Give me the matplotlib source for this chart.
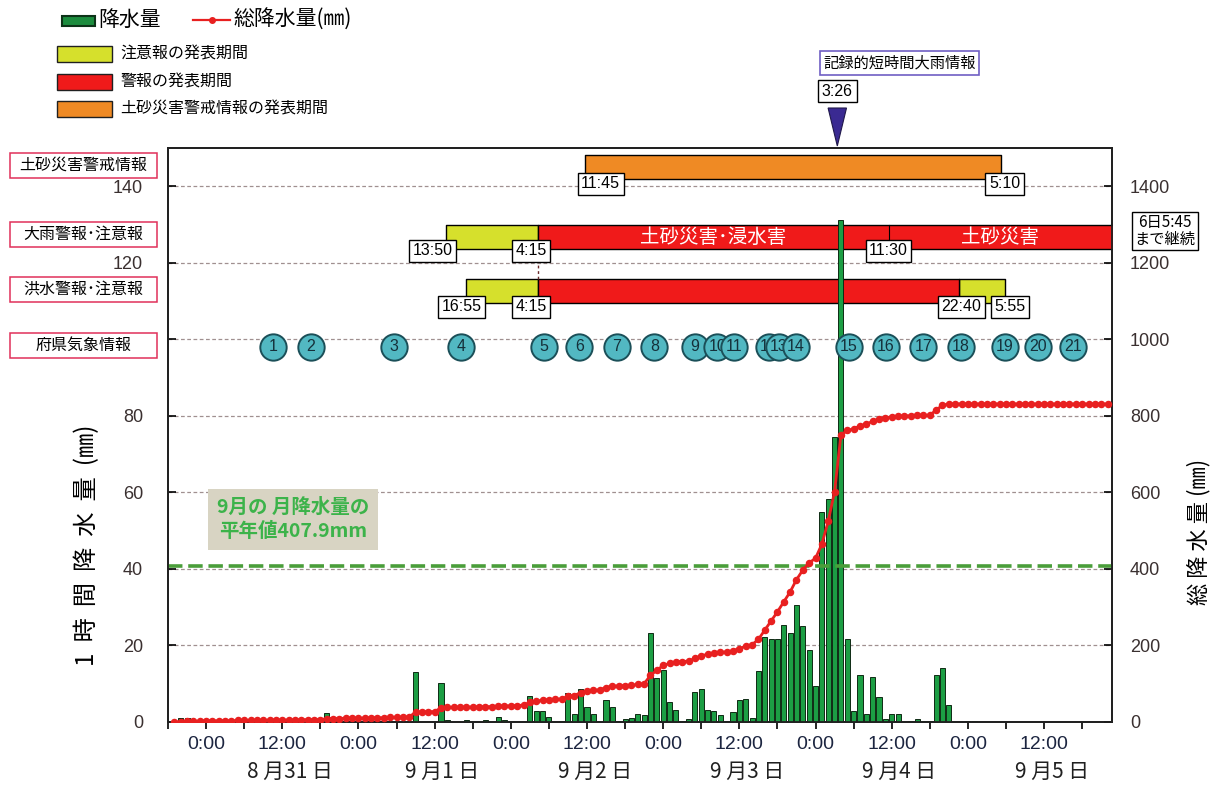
import matplotlib
matplotlib.use('Agg')
import matplotlib.pyplot as plt
import matplotlib.transforms as mtransforms
from matplotlib.patches import Rectangle, Polygon
from matplotlib.lines import Line2D
from matplotlib import font_manager

plt.rcParams['font.family'] = ['Noto Sans CJK JP', 'DejaVu Sans']

def _has(name):
    try:
        font_manager.findfont(name, fallback_to_default=False)
        return True
    except Exception:
        return False

NUMF = 'Liberation Sans' if _has('Liberation Sans') else 'DejaVu Sans'
NARROW = 'Liberation Sans Narrow' if _has('Liberation Sans Narrow') else NUMF

# ---------------- data (hours counted from 8/31 0:00) ----------------
rain_hours = [-4, -3, 18, 19, 20, 33, 37, 38, 41, 44, 46, 47, 51, 52, 53, 54, 56, 57, 58, 59,
              60, 61, 63, 64, 65, 66, 67, 68, 69, 70, 71, 72, 73, 74, 75, 76, 77, 78, 79, 80,
              81, 82, 83, 84, 85, 86, 87, 88, 89, 90, 91, 92, 93, 94, 95, 96, 97, 98, 99, 100,
              101, 102, 103, 104, 105, 106, 107, 108, 109, 111, 112, 113, 114, 115, 116, 117, 120, 121]
rain_mm = [1.0, 1.0, 0.3, 2.3, 0.3, 13.1, 10.3, 0.5, 0.4, 0.5, 1.2, 0.4, 6.8, 2.8, 2.8, 1.2, 0.3, 7.6, 2.0, 8.5,
           3.9, 2.2, 5.8, 3.9, 0.3, 0.9, 1.1, 2.2, 1.7, 23.3, 11.6, 13.5, 5.1, 3.1, 0.3, 0.8, 7.8, 8.7, 3.1, 2.8,
           1.7, 0.3, 2.6, 5.7, 6.1, 1.1, 13.3, 22.2, 21.6, 21.6, 25.3, 23.3, 30.5, 25.0, 18.9, 9.3, 55.0, 58.3, 74.5, 131.3,
           21.8, 3.0, 12.4, 2.1, 11.7, 6.6, 0.8, 2.1, 2.1, 0.3, 0.9, 0.3, 0.3, 12.3, 14.1, 4.4, 0.3, 0.3]

total_hours = list(range(-5, 143))
total_mm = [0, 1, 2, 2, 2, 3, 3, 3, 3, 3, 4, 4, 4, 4, 4, 5, 5, 5, 5, 5,
            6, 6, 6, 6, 9, 9, 9, 10, 10, 10, 10, 11, 11, 11, 12, 12, 12, 13, 26, 26,
            27, 27, 37, 38, 38, 38, 39, 39, 39, 40, 40, 41, 42, 42, 43, 44, 51, 54, 57, 58,
            59, 60, 67, 69, 77, 81, 83, 84, 90, 94, 94, 95, 96, 98, 100, 122, 135, 148, 153, 157,
            158, 159, 166, 173, 177, 180, 182, 183, 186, 192, 198, 202, 216, 240, 264, 288, 314, 340, 372, 397,
            416, 428, 465, 525, 602, 750, 762, 766, 774, 778, 786, 792, 795, 797, 799, 800, 800, 801, 801, 802,
            815, 828, 831, 831, 831, 831, 831, 831, 831, 831, 831, 831, 831, 831, 831, 831, 831, 831, 831, 831,
            831, 831, 831, 831, 831, 831, 831, 831]

normal_sept = 407.9
normal_text = "9月の 月降水量の\n平年値407.9mm"

date_labels = ["8 月31 日", "9 月1 日", "9 月2 日", "9 月3 日", "9 月4 日", "9 月5 日"]
date_noon = [12, 36, 60, 84, 108, 132]

# warnings / advisories (start, end) in hours
dosha_period = (59.75, 125.17)              # 11:45 -> 5:10
ooame_advisory = (37.83, 52.25)             # 13:50 -> 4:15
ooame_warning = (52.25, 149.75)             # 4:15 -> 6日5:45
ooame_switch = 107.5                        # 11:30
kozui_advisory1 = (40.92, 52.25)            # 16:55 -> 4:15
kozui_warning = (52.25, 118.67)             # 4:15 -> 22:40
kozui_advisory2 = (118.67, 125.92)          # 22:40 -> 5:55
kiroku_time = 99.43                         # 3:26
kishou_times = [10.5, 16.5, 29.6, 40.2, 53.2, 58.8, 64.7, 70.6, 77.0, 80.5, 83.1,
                88.6, 90.2, 92.9, 101.2, 107.1, 113.0, 118.9, 125.8, 131.0, 136.6]

row_labels = ["土砂災害警戒情報", "大雨警報･注意報", "洪水警報･注意報", "府県気象情報"]

# ---------------- figure ----------------
W, H = 1210, 789
fig = plt.figure(figsize=(W / 100, H / 100), dpi=100)
fig.patch.set_facecolor('white')

def fx(px):
    return px / W

def fy(py):
    return 1 - py / H

AX_L, AX_R, AX_T, AX_B = 168, 1112, 148, 722
ax = fig.add_axes([fx(AX_L), fy(AX_B), (AX_R - AX_L) / W, (AX_B - AX_T) / H])
ax.set_xlim(-6, 142.7)
ax.set_ylim(0, 150)
ax2 = ax.twinx()
ax2.set_ylim(0, 1500)

def ay(py):
    return (AX_B - py) / (AX_B - AX_T)

# grid
for g in range(20, 150, 20):
    ax.axhline(g, color='#a09090', lw=0.9, ls=(0, (3, 2)), zorder=1)

YEL, RED, ORA = '#d6e02c', '#f01a1a', '#ef8a24'

# annotation rows
ax.broken_barh([(dosha_period[0], dosha_period[1] - dosha_period[0])], (141.8, 6.4),
               facecolors=ORA, edgecolors='black', lw=1.0, zorder=3)
ax.broken_barh([(ooame_advisory[0], ooame_advisory[1] - ooame_advisory[0])], (123.5, 6.5),
               facecolors=YEL, edgecolors='black', lw=1.0, zorder=3)
ax.broken_barh([(ooame_warning[0], ooame_warning[1] - ooame_warning[0])], (123.5, 6.5),
               facecolors=RED, edgecolors='black', lw=1.0, zorder=3)
ax.plot([ooame_switch, ooame_switch], [123.5, 130.0], color='black', lw=0.8, zorder=3)
ax.broken_barh([(kozui_advisory1[0], kozui_advisory1[1] - kozui_advisory1[0]),
                (kozui_advisory2[0], kozui_advisory2[1] - kozui_advisory2[0])], (109.4, 6.3),
               facecolors=YEL, edgecolors='black', lw=1.0, zorder=3)
ax.broken_barh([(kozui_warning[0], kozui_warning[1] - kozui_warning[0])], (109.4, 6.3),
               facecolors=RED, edgecolors='black', lw=1.0, zorder=3)
ax.plot([ooame_warning[0], ooame_warning[0]], [115.7, 123.5], color='#6a2a2a', lw=1.0,
        ls=(0, (2, 2)), zorder=3)

ax.text((ooame_warning[0] + ooame_switch) / 2, 126.7, "土砂災害･浸水害", color='white',
        fontsize=14, ha='center', va='center', zorder=3.5)
ax.text((ooame_switch + 142.7) / 2, 126.7, "土砂災害", color='white',
        fontsize=14, ha='center', va='center', zorder=3.5)

# rainfall bars
ax.bar(rain_hours, rain_mm, width=0.8, color='#1c9e44', edgecolor='#0f2a14', lw=0.7, zorder=4)

# time labels
box = dict(boxstyle='square,pad=0.22', fc='white', ec='black', lw=1.0)
time_labels = [
    (dosha_period[0] + 2.4, 140.6, "11:45"),
    (dosha_period[1] + 0.6, 140.6, "5:10"),
    (ooame_advisory[0] - 2.2, 123.1, "13:50"),
    (ooame_advisory[1] - 1.1, 123.1, "4:15"),
    (ooame_switch, 123.1, "11:30"),
    (kozui_advisory1[0] - 0.7, 108.5, "16:55"),
    (kozui_advisory1[1] - 1.1, 108.5, "4:15"),
    (kozui_warning[1] + 0.3, 108.5, "22:40"),
    (kozui_advisory2[1] + 0.7, 108.5, "5:55"),
]
for x, y, s in time_labels:
    ax.text(x, y, s, fontsize=11.5, family=NARROW, ha='center', va='center', bbox=box, zorder=6)

# prefectural weather info circles
for i, t in enumerate(kishou_times):
    ax.scatter([t], [98.0], s=360, color='#52b8c2', edgecolors='#1b4f58', linewidths=1.4,
               zorder=10 + 2 * i)
    ax.text(t, 98.0, str(i + 1), fontsize=11.5, family=NUMF, color='#15303a',
            ha='center', va='center', zorder=11 + 2 * i)

# normal text box
ax.text(13.7, 53, normal_text, color='#3cb34a', fontsize=14, fontweight='bold',
        ha='center', va='center', linespacing=1.35,
        bbox=dict(boxstyle='square,pad=0.45', fc='#d8d4c3', ec='none'), zorder=5)

# cumulative + normal line
ax2.axhline(normal_sept, color='#4a9e3a', lw=2.6, ls=(0, (4, 1.6)), zorder=2)
ax2.plot(total_hours, total_mm, color='#e82020', lw=2.0, marker='o', markersize=4.4,
         markeredgecolor='#e82020', zorder=5)

# axes styling
ax.set_xticks(list(range(-6, 143, 6)))
ax.set_xticklabels(["0:00" if h % 24 == 0 else ("12:00" if h % 24 == 12 else "")
                    for h in range(-6, 143, 6)], family=NUMF, fontsize=14, color='#1c2540')
ax.tick_params(axis='x', direction='out', length=5, width=1.2, pad=5)
ax.set_yticks(list(range(0, 141, 20)))
ax.set_yticklabels([("" if v == 100 else str(v)) for v in range(0, 141, 20)],
                   family=NUMF, fontsize=13, color='#3a3030')
ax.tick_params(axis='y', direction='in', length=6, width=1.2, pad=18)
ax2.set_yticks(list(range(0, 1401, 200)))
ax2.set_yticklabels([str(v) for v in range(0, 1401, 200)], family=NUMF, fontsize=13, color='#3a3030')
ax2.tick_params(axis='y', direction='in', length=6, width=1.2, pad=13)
for a in (ax, ax2):
    for sp in a.spines.values():
        sp.set_linewidth(1.3)
        sp.set_color('#202020')

ax.set_ylabel("1  時  間  降  水  量  (㎜)", fontsize=17.5)
ax.yaxis.set_label_coords((100 - AX_L) / (AX_R - AX_L), ay(545))
ax2.set_ylabel("総 降 水 量 (㎜)", fontsize=16, rotation=90)
ax2.yaxis.set_label_coords((1187 - AX_L) / (AX_R - AX_L), ay(532))

for lab, t in zip(date_labels, date_noon):
    ax.annotate(lab, xy=(t + 1.2, 0), xycoords=('data', 'axes fraction'),
                xytext=(0, -36), textcoords='offset points', fontsize=15,
                ha='center', va='center', color='#202020', annotation_clip=False)

# record heavy rain info marker
bt = mtransforms.blended_transform_factory(ax.transData, fig.transFigure)
tri = Polygon([(kiroku_time - 1.45, fy(108)), (kiroku_time + 1.45, fy(108)),
               (kiroku_time, fy(146))], closed=True, transform=bt,
              facecolor='#3a2a92', edgecolor='#20184a', lw=0.8, clip_on=False)
fig.add_artist(tri)
fig.text(kiroku_time, fy(91), "3:26", transform=bt, fontsize=11.5, family=NARROW,
         ha='center', va='center', bbox=dict(boxstyle='square,pad=0.25', fc='white', ec='black', lw=1.0))
fig.text(fx(899.5), fy(63), "記録的短時間大雨情報", fontsize=11, ha='center', va='center',
         bbox=dict(boxstyle='square,pad=0.2', fc='white', ec='#6f5fc4', lw=1.2))
fig.text(fx(1165), fy(231), "6日5:45\nまで継続", fontsize=11, ha='center', va='center',
         linespacing=1.0, bbox=dict(boxstyle='square,pad=0.15', fc='white', ec='black', lw=1.0))

# row labels at left
row_y = [165, 234, 289, 345]
for lab, yc in zip(row_labels, row_y):
    fig.add_artist(Rectangle((fx(10), fy(yc + 12.5)), 147 / W, 25 / H, transform=fig.transFigure,
                             fc='white', ec='#e0305a', lw=1.1))
    fig.text(fx(83.5), fy(yc), lab, fontsize=11.5, ha='center', va='center')

# legend (manual)
fig.add_artist(Rectangle((fx(62), fy(26)), 33 / W, 10 / H, transform=fig.transFigure,
                         fc='#1c8c3e', ec='#0d3318', lw=1.5))
fig.text(fx(98), fy(20), "降水量", fontsize=15, ha='left', va='center')
fig.add_artist(Line2D([fx(193), fx(230)], [fy(20), fy(20)], transform=fig.transFigure,
                      color='#e82020', lw=1.6))
fig.add_artist(Line2D([fx(211.5)], [fy(20)], transform=fig.transFigure, color='#e82020',
                      marker='o', markersize=4))
fig.text(fx(233), fy(20), "総降水量(㎜)", fontsize=15, ha='left', va='center')
legend_boxes = [(YEL, 54, "注意報の発表期間"), (RED, 82, "警報の発表期間"),
                (ORA, 109, "土砂災害警戒情報の発表期間")]
for col, yc, lab in legend_boxes:
    fig.add_artist(Rectangle((fx(57), fy(yc + 8)), 55 / W, 16 / H, transform=fig.transFigure,
                             fc=col, ec='#202020', lw=1.0))
    fig.text(fx(120), fy(yc), lab, fontsize=11.5, ha='left', va='center')

fig.savefig('out.png', dpi=100)
